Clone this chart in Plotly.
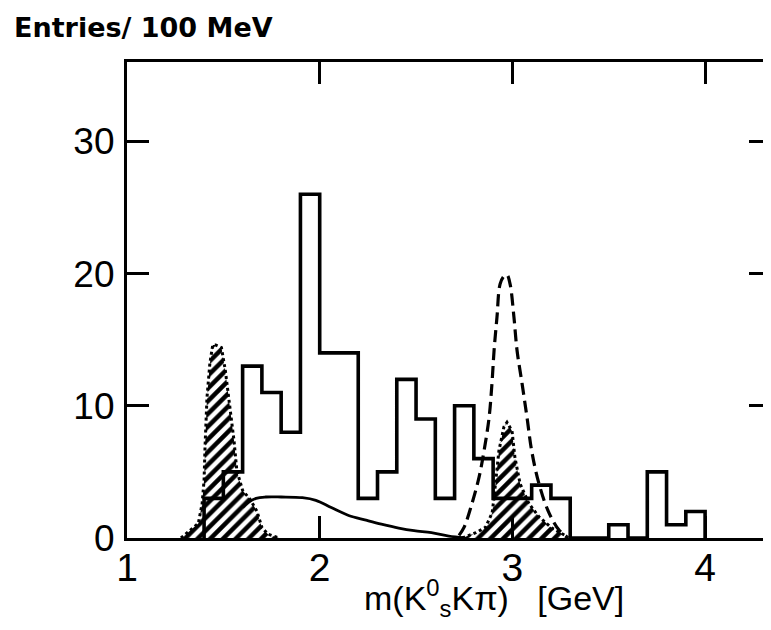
import plotly.graph_objects as go

# ---- data ----
bin_low = [1.4, 1.5, 1.6, 1.7, 1.8, 1.9, 2.0, 2.1, 2.2, 2.3, 2.4, 2.5, 2.6,
           2.7, 2.8, 2.9, 3.0, 3.1, 3.2, 3.3, 3.4, 3.5, 3.6, 3.7, 3.8, 3.9]
bin_width = 0.1
counts = [3, 5, 13, 11, 8, 26, 14, 14, 3, 5, 12, 9, 3,
          10, 6, 3, 3, 4, 3, 0, 0, 1, 0, 5, 1, 2]

# hatched peak 1 (outline)
hatch1_x = [1.28, 1.32, 1.37, 1.39, 1.40, 1.405, 1.415, 1.43, 1.445, 1.46,
            1.49, 1.51, 1.535, 1.555, 1.57, 1.60, 1.64, 1.675, 1.70, 1.73,
            1.77, 1.79]
hatch1_y = [0, 0.5, 1.1, 2.6, 4.4, 6.9, 10.6, 13.2, 14.6, 14.6,
            14.4, 12.7, 9.9, 7.4, 5.1, 3.6, 2.9, 2.0, 0.8, 0.3,
            0.1, 0]

# hatched peak 2 (outline)
hatch2_x = [2.74, 2.81, 2.86, 2.895, 2.905, 2.93, 2.956, 2.972, 2.998, 3.013,
            3.04, 3.086, 3.138, 3.205, 3.273, 3.29]
hatch2_y = [0, 0.4, 0.8, 1.9, 3.1, 6.6, 8.4, 8.75, 8.1, 6.1,
            4.1, 2.6, 1.6, 0.75, 0.2, 0]

# solid background curve
bg_x = [1.60, 1.63, 1.67, 1.72, 1.80, 1.91, 1.98, 2.06, 2.15, 2.24, 2.32,
        2.41, 2.49, 2.58, 2.67, 2.75]
bg_y = [2.3, 2.7, 3.0, 3.1, 3.1, 3.05, 2.85, 2.3, 1.7, 1.35, 1.05,
        0.75, 0.55, 0.4, 0.15, 0.02]

# dashed curve
bw_x = [2.723, 2.749, 2.79, 2.827, 2.853, 2.879, 2.894, 2.905, 2.92, 2.936,
        2.956, 2.972, 2.988, 3.008, 3.024, 3.05, 3.076, 3.10, 3.138, 3.19,
        3.242, 3.283]
bw_y = [0.2, 0.8, 2.6, 4.6, 6.6, 9.1, 11.7, 14.2, 16.7, 19.2,
        19.8, 19.9, 19.2, 16.7, 14.2, 11.7, 9.1, 6.6, 4.1, 1.9,
        0.6, 0.1]

x_ticks = [1, 2, 3, 4]
y_ticks = [0, 10, 20, 30]
y_right_ticks = [10, 20, 30]

# ---- build histogram outline ----
hist_x = [bin_low[0]] + bin_low + [bin_low[-1] + bin_width]
hist_y = [0] + counts + [0]

TICKFONT = "Liberation Sans"
TITLEFONT = "DejaVu Sans"

# figure geometry (page body has an 8px margin)
W, H = 763, 614
ML, MR, MT, MB = 119, 0, 54, 84
PW, PH = W - ML - MR, H - MT - MB

fig = go.Figure()

hatch = dict(shape="/", fgcolor="black", bgcolor="white", fgopacity=1,
             size=9, solidity=0.5)
for hx, hy in [(hatch1_x, hatch1_y), (hatch2_x, hatch2_y)]:
    fig.add_trace(go.Scatter(
        x=hx, y=hy, mode="lines", fill="toself",
        fillpattern=hatch, fillcolor="white",
        line=dict(color="black", width=3, dash="dot"),
        showlegend=False, hoverinfo="skip"))

fig.add_trace(go.Scatter(
    x=hist_x, y=hist_y, mode="lines", line=dict(color="black", width=3.6, shape="hv"),
    showlegend=False))

fig.add_trace(go.Scatter(
    x=bg_x, y=bg_y, mode="lines", line=dict(color="black", width=2.8, shape="spline"),
    showlegend=False))

fig.add_trace(go.Scatter(
    x=bw_x, y=bw_y, mode="lines",
    line=dict(color="black", width=3.2, dash="12px,6px", shape="spline"),
    showlegend=False))

# dummy trace to materialise right axis ticks
fig.add_trace(go.Scatter(x=[2], y=[5], yaxis="y2", mode="markers",
                         marker=dict(opacity=0), showlegend=False, hoverinfo="skip"))

fig.update_layout(
    width=W, height=H,
    margin=dict(l=ML, r=MR, t=MT, b=MB),
    paper_bgcolor="white", plot_bgcolor="white",
    font=dict(family=TICKFONT, color="black"),
    xaxis=dict(
        range=[1, 4.342], tickvals=x_ticks, ticktext=[str(v) for v in x_ticks],
        showline=True, linecolor="black", linewidth=3.2, mirror="ticks",
        ticks="inside", ticklen=22, tickwidth=3, tickcolor="black",
        showgrid=False, zeroline=False,
        tickfont=dict(family=TICKFONT, size=39), ticklabelstandoff=-7,
    ),
    yaxis=dict(
        range=[0, 36], tickvals=y_ticks, ticktext=[str(v) for v in y_ticks],
        showline=True, linecolor="black", linewidth=3.2,
        ticks="inside", ticklen=22, tickwidth=3, tickcolor="black",
        showgrid=False, zeroline=False,
        tickfont=dict(family=TICKFONT, size=37), ticklabelstandoff=2,
    ),
    yaxis2=dict(
        range=[0, 36], overlaying="y", side="right", anchor="x",
        tickvals=y_right_ticks, showticklabels=False, showline=False,
        ticks="inside", ticklen=22, tickwidth=3, tickcolor="black",
        showgrid=False, zeroline=False,
    ),
    annotations=[
        dict(text="<b>Entries/ 100 MeV</b>", xref="paper", yref="paper",
             x=(4 - ML) / PW, y=1 + (MT - 19.5) / PH, xanchor="left", yanchor="middle",
             showarrow=False, font=dict(family=TITLEFONT, size=27, color="black")),
        dict(text="m(K<sup>0</sup><sub>s</sub>Kπ)   [GeV]", xref="paper", yref="paper",
             x=(486 - ML) / PW, y=-(590 - (MT + PH)) / PH, xanchor="center", yanchor="middle",
             showarrow=False, font=dict(family=TICKFONT, size=34, color="black")),
    ],
)

fig.write_html("out.html")
